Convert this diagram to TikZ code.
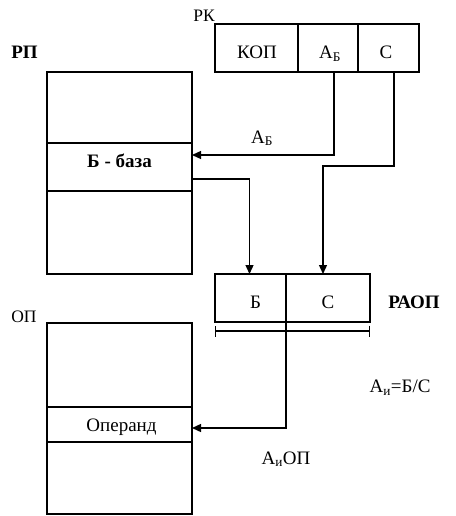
\documentclass[tikz,border=0pt]{standalone}
\usepackage{fontspec}
\setmainfont{Liberation Serif}
\usetikzlibrary{arrows.meta}
\begin{document}
\begin{tikzpicture}[x=1pt,y=-1pt,
  cell/.style={draw, line width=1.3pt, inner sep=0pt, outer sep=0pt, rectangle},
  txt/.style={inner sep=0pt, anchor=base, font=\fontsize{19}{21}\selectfont},
  btxt/.style={inner sep=0pt, anchor=base, font=\fontsize{19}{21}\selectfont\bfseries},
  lbl/.style={inner sep=0pt, anchor=base, font=\fontsize{17.5}{20}\selectfont},
  conn/.style={line width=1.3pt},
  arr/.style={conn, -{Triangle[length=9pt,width=8pt]}},
  brk/.style={conn, {Bar[width=11pt]}-{Bar[width=11pt]}},
]
\useasboundingbox (0,0) rectangle (455,516);

% RK register
\node[cell, minimum width=83pt, minimum height=48pt] (kop) at (256.5,48) {};
\node[cell, minimum width=60pt, minimum height=48pt] (ab) at (328,48) {};
\node[cell, minimum width=61pt, minimum height=48pt] (c) at (388.5,48) {};
\node[txt] (tkop) at (257,59) {КОП};
\node[txt] (tab) at (330,59) {А\textsubscript{Б}};
\node[txt] (tc) at (386,59) {С};
\node[lbl] (rk) at (204,22) {РК};

% RP
\node[cell, minimum width=145pt, minimum height=71pt] (rp1) at (119.5,107.5) {};
\node[cell, minimum width=145pt, minimum height=48pt] (rp2) at (119.5,167) {};
\node[cell, minimum width=145pt, minimum height=83pt] (rp3) at (119.5,232.5) {};
\node[btxt] (tbase) at (119.5,167) {Б - база};
\node[btxt] (rp) at (24.5,59) {РП};

% RAOP
\node[cell, minimum width=71pt, minimum height=48pt] (b) at (250.5,298) {};
\node[cell, minimum width=84pt, minimum height=48pt] (cc) at (328,298) {};
\node[txt] (tb) at (255.5,308) {Б};
\node[txt] (tcc) at (328,308) {С};
\node[btxt] (raop) at (414,308) {РАОП};

% OP
\node[cell, minimum width=145pt, minimum height=84pt] (op1) at (119.5,365) {};
\node[cell, minimum width=145pt, minimum height=35pt] (op2) at (119.5,424.5) {};
\node[cell, minimum width=145pt, minimum height=72pt] (op3) at (119.5,478) {};
\node[txt] (toper) at (121.5,431.5) {Операнд};
\node[lbl] (op) at (24,322) {ОП};

% labels
\node[txt] (lab) at (262,143) {А\textsubscript{Б}};
\node[txt] (lai) at (400,392.5) {А\textsubscript{и}=Б/С};
\node[txt] (laiop) at (286,464) {А\textsubscript{и}ОП};

% connectors
\draw[arr] ([xshift=6pt]ab.south) |- ([yshift=12pt]rp2.east);
\draw[arr] ([xshift=5.5pt]c.south) -- ++(0,94) -| ([xshift=-5pt]cc.north);
\draw[arr] ([yshift=-12pt]rp2.east) -| ([xshift=-1pt]b.north);
\draw[arr] (b.south east) |- ([yshift=-3.5pt]op2.east);
\draw[brk] ([yshift=-9pt]b.south west) -- ([yshift=-9pt]cc.south east);
\end{tikzpicture}
\end{document}
